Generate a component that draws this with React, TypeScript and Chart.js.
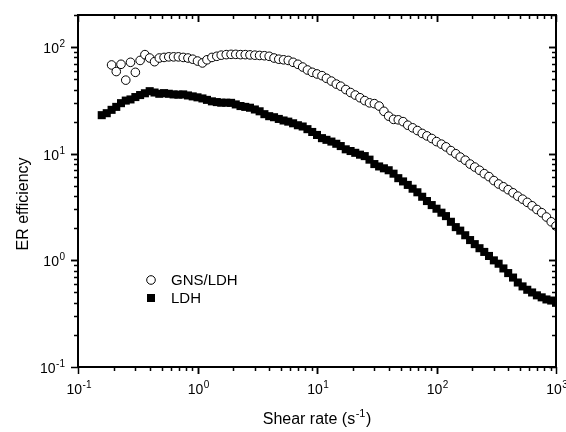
import React, { useEffect, useRef } from "react";
import { Chart, registerables } from "chart.js";

Chart.register(...registerables);

// Shear rate (s^-1), shared by both series
const shearRate = [
  0.158, 0.174, 0.191, 0.209, 0.229, 0.251, 0.275, 0.302, 0.331, 0.363,
  0.398, 0.437, 0.479, 0.525, 0.575, 0.631, 0.692, 0.759, 0.832, 0.912,
  1.0, 1.1, 1.2, 1.32, 1.45, 1.58, 1.74, 1.91, 2.09, 2.29,
  2.51, 2.75, 3.02, 3.31, 3.63, 3.98, 4.37, 4.79, 5.25, 5.75,
  6.31, 6.92, 7.59, 8.32, 9.12, 10.0, 11.0, 12.0, 13.2, 14.5,
  15.8, 17.4, 19.1, 20.9, 22.9, 25.1, 27.5, 30.2, 33.1, 36.3,
  39.8, 43.7, 47.9, 52.5, 57.5, 63.1, 69.2, 75.9, 83.2, 91.2,
  100, 110, 120, 132, 145, 158, 174, 191, 209, 229,
  251, 275, 302, 331, 363, 398, 437, 479, 525, 575,
  631, 692, 759, 832, 912, 1000,
];

// LDH ER efficiency (all shear rates)
const ldhEff = [
  23.0, 24.0, 25.8, 27.5, 29.8, 31.5, 32.3, 34.0, 35.5, 36.9,
  38.6, 37.5, 36.5, 37.0, 36.5, 36.0, 35.8, 36.0, 35.2, 34.5,
  33.8, 33.0, 32.0, 31.0, 30.5, 30.1, 30.1, 30.0, 29.0, 28.0,
  27.5, 27.0, 26.0, 25.0, 23.5, 22.5, 22.0, 21.2, 20.5, 20.0,
  19.3, 18.5, 18.0, 17.0, 16.0, 15.0, 14.0, 13.5, 13.0, 12.4,
  11.8, 11.0, 10.6, 10.2, 9.8, 9.5, 8.8, 8.0, 7.6, 7.3,
  7.0, 6.5, 5.9, 5.5, 5.1, 4.7, 4.35, 3.95, 3.6, 3.3,
  3.05, 2.8, 2.6, 2.3, 2.05, 1.9, 1.72, 1.55, 1.42, 1.3,
  1.2, 1.1, 1.0, 0.93, 0.84, 0.76, 0.69, 0.62, 0.57, 0.53,
  0.5, 0.47, 0.45, 0.43, 0.42, 0.4,
];

// GNS/LDH ER efficiency (from the 3rd shear rate on)
const gnsStart = 2;
const gnsEff = [
  68, 59, 69, 49, 72, 58, 75, 85,
  79, 73, 79, 80, 81, 81, 81, 80, 79, 77,
  74, 71, 76, 80, 82, 84, 85, 85.5, 85.5, 85,
  85, 84.5, 84, 83.5, 83, 82, 79, 77, 76, 75,
  72, 69, 65, 61, 58, 56, 54, 51, 48, 45,
  43, 40, 37.5, 35.5, 33.5, 31.5, 30.0, 29.5, 28.0, 25,
  22.5, 21.0, 20.8, 20.0, 18.5, 17.5, 16.5, 15.5, 14.7, 13.9,
  13.0, 12.3, 11.6, 10.7, 10.0, 9.3, 8.7, 8.0, 7.5, 7.0,
  6.5, 6.1, 5.6, 5.2, 4.9, 4.6, 4.3, 4.0, 3.75, 3.5,
  3.25, 3.0, 2.8, 2.55, 2.3, 2.1,
];

const xMajorExp = [-1, 0, 1, 2, 3];
const yMajorExp = [-1, 0, 1, 2];
const xRange = [0.1, 1000];
const yRange = [0.1, 200];
const seriesNames = ["GNS/LDH", "LDH"];
const xTitle = "Shear rate (s";
const xTitleSup = "-1";
const xTitleEnd = ")";
const yTitle = "ER efficiency";

const FONT = "'Liberation Sans', Arial, sans-serif";

function drawPow(ctx: CanvasRenderingContext2D, exp: number, cx: number, cy: number, align: "center" | "right") {
  const base = "10";
  const sup = String(exp);
  ctx.font = `14px ${FONT}`;
  const wb = ctx.measureText(base).width;
  ctx.font = `10px ${FONT}`;
  const ws = ctx.measureText(sup).width;
  const total = wb + ws + 0.5;
  const left = align === "center" ? cx - total / 2 : cx - total;
  ctx.textAlign = "left";
  ctx.textBaseline = "alphabetic";
  ctx.font = `14px ${FONT}`;
  ctx.fillText(base, left, cy + 5);
  ctx.font = `10px ${FONT}`;
  ctx.fillText(sup, left + wb + 0.5, cy - 1);
}

const framePlugin = {
  id: "frame",
  afterDraw(chart: any) {
    const { ctx, chartArea: a, scales } = chart;
    const xs = scales.x;
    const ys = scales.y;
    ctx.save();
    ctx.fillStyle = "#000";
    ctx.strokeStyle = "#000";

    // ticks
    ctx.lineWidth = 1.5;
    for (let d = -1; d <= 2; d++) {
      for (let m = 1; m <= 10; m++) {
        const v = m * Math.pow(10, d);
        if (v < xRange[0] || v > xRange[1]) continue;
        const px = Math.round(xs.getPixelForValue(v)) + 0.5;
        const len = m === 1 || m === 10 ? 7 : 4;
        ctx.beginPath();
        ctx.moveTo(px, a.bottom);
        ctx.lineTo(px, a.bottom + len);
        ctx.moveTo(px, a.top);
        ctx.lineTo(px, a.top + len);
        ctx.stroke();
      }
    }
    for (let d = -1; d <= 2; d++) {
      for (let m = 1; m <= 10; m++) {
        const v = m * Math.pow(10, d);
        if (v < yRange[0] || v > yRange[1]) continue;
        const py = Math.round(ys.getPixelForValue(v)) + 0.5;
        const len = m === 1 || m === 10 ? 7 : 4;
        ctx.beginPath();
        ctx.moveTo(a.left - len, py);
        ctx.lineTo(a.left, py);
        ctx.moveTo(a.right - len, py);
        ctx.lineTo(a.right, py);
        ctx.stroke();
      }
    }

    // frame
    ctx.lineWidth = 2;
    ctx.strokeRect(a.left, a.top, a.right - a.left, a.bottom - a.top);

    // tick labels
    xMajorExp.forEach((e) => {
      const px = xs.getPixelForValue(Math.pow(10, e));
      drawPow(ctx, e, px + 1, a.bottom + 22, "center");
    });
    yMajorExp.forEach((e) => {
      const py = ys.getPixelForValue(Math.pow(10, e));
      drawPow(ctx, e, a.left - 13, py + 1, "right");
    });

    // x title
    const tf = 16;
    ctx.font = `${tf}px ${FONT}`;
    const w1 = ctx.measureText(xTitle).width;
    const w3 = ctx.measureText(xTitleEnd).width;
    ctx.font = `11px ${FONT}`;
    const w2 = ctx.measureText(xTitleSup).width;
    const tw = w1 + w2 + w3 + 1;
    const cx = (a.left + a.right) / 2;
    const tx = cx - tw / 2;
    const ty = 424;
    ctx.textAlign = "left";
    ctx.textBaseline = "alphabetic";
    ctx.font = `${tf}px ${FONT}`;
    ctx.fillText(xTitle, tx, ty);
    ctx.font = `11px ${FONT}`;
    ctx.fillText(xTitleSup, tx + w1 + 0.5, ty - 7);
    ctx.font = `${tf}px ${FONT}`;
    ctx.fillText(xTitleEnd, tx + w1 + w2 + 1, ty);

    // y title
    ctx.save();
    ctx.translate(28, 204);
    ctx.rotate(-Math.PI / 2);
    ctx.textAlign = "center";
    ctx.textBaseline = "alphabetic";
    ctx.font = `${tf}px ${FONT}`;
    ctx.fillText(yTitle, 0, 0);
    ctx.restore();

    // legend
    const lx = 151;
    const ly1 = 280;
    const ly2 = 298;
    ctx.lineWidth = 1;
    ctx.beginPath();
    ctx.arc(lx, ly1, 4.3, 0, Math.PI * 2);
    ctx.fillStyle = "#fff";
    ctx.fill();
    ctx.stroke();
    ctx.fillStyle = "#000";
    ctx.fillRect(lx - 4, ly2 - 4, 8, 8);
    ctx.font = `15px ${FONT}`;
    ctx.textAlign = "left";
    ctx.textBaseline = "middle";
    ctx.fillText(seriesNames[0], 171, ly1 + 1);
    ctx.fillText(seriesNames[1], 171, ly2 + 1);

    ctx.restore();
  },
};

export default function App() {
  const ref = useRef<HTMLCanvasElement | null>(null);
  useEffect(() => {
    if (!ref.current) return;
    const gnsData = gnsEff.map((v, i) => ({ x: shearRate[i + gnsStart], y: v }));
    const ldhData = ldhEff.map((v, i) => ({ x: shearRate[i], y: v }));
    const chart = new Chart(ref.current, {
      type: "scatter",
      data: {
        datasets: [
          {
            label: seriesNames[0],
            data: gnsData,
            pointStyle: "circle",
            pointRadius: 4.3,
            pointBorderWidth: 1,
            pointBorderColor: "#000",
            pointBackgroundColor: "#fff",
            showLine: false,
          },
          {
            label: seriesNames[1],
            data: ldhData,
            pointStyle: "rect",
            pointRadius: 5.7,
            pointBorderWidth: 0,
            pointBorderColor: "#000",
            pointBackgroundColor: "#000",
            showLine: false,
          },
        ],
      },
      options: {
        responsive: false,
        animation: false,
        layout: { padding: { left: 78, top: 15, right: 10, bottom: 65 } },
        plugins: { legend: { display: false }, tooltip: { enabled: false } },
        scales: {
          x: { type: "logarithmic", min: xRange[0], max: xRange[1], display: false },
          y: { type: "logarithmic", min: yRange[0], max: yRange[1], display: false },
        },
      },
      plugins: [framePlugin],
    });
    return () => chart.destroy();
  }, []);
  return (
    <div style={{ position: "absolute", left: 0, top: 0, width: 566, height: 432, background: "#fff" }}>
      <canvas ref={ref} width={566} height={432} style={{ display: "block" }} />
    </div>
  );
}
